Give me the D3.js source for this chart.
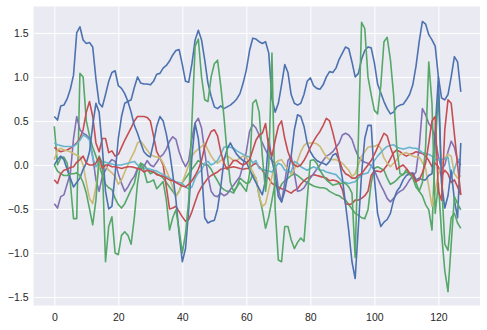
<!DOCTYPE html>
<html><head><meta charset="utf-8">
<script src="https://cdn.jsdelivr.net/npm/d3@7"></script>
<style>
html,body{margin:0;padding:0;background:#fff;}
svg text{font-family:"Liberation Sans",Arial,sans-serif;}
</style></head>
<body><svg id="c" width="487" height="330"></svg>
<script>
const xTicks = [0,20,40,60,80,100,120];
const yTicks = [-1.5,-1.0,-0.5,0.0,0.5,1.0,1.5];
const colors = ["#4C72B0","#55A868","#C44E52","#8172B2","#CCB974","#64B5CD","#4C72B0","#55A868","#C44E52"];

const s1 = [0.55,0.51,0.67,0.68,0.75,0.86,1.02,1.5,1.57,1.42,1.38,1.39,1.34,0.98,0.7,0.66,0.8,0.95,1.05,1.07,0.9,0.87,0.81,0.72,0.74,0.88,1.0,0.93,0.92,0.92,
0.91,0.95,1.03,1.04,1.1,1.13,1.18,1.25,1.3,1.31,1.14,0.95,0.94,1.15,1.42,1.53,1.42,1.19,0.93,0.78,
0.66,0.64,0.67,0.64,0.66,0.68,0.71,0.75,0.81,0.93,1.08,1.3,1.44,1.43,1.40,1.38,1.40,1.27,0.75,0.6,
0.7,0.91,1.14,1.05,0.8,0.7,0.68,0.70,0.8,0.95,0.99,0.9,0.87,0.86,0.91,1.0,1.06,1.05,1.1,1.2,
1.27,1.34,1.32,1.17,1.0,1.04,1.2,1.3,1.34,1.33,1.16,0.92,0.82,0.72,0.64,0.58,0.6,0.66,0.68,0.69,
0.74,0.8,0.91,1.12,1.4,1.63,1.6,1.48,1.42,1.35,1.0,0.76,0.74,0.8,1.0,1.23,1.17,0.83];
const s2 = [0.44,0.0,0.08,0.09,0.02,-0.2,-0.61,-0.61,1.04,1.0,
0.5,0.33,0.2,0.1,0.0,-0.12,-0.22,-0.26,-0.28,-0.38,
-0.45,-0.49,-0.44,-0.36,-0.28,-0.21,-0.05,0.02,0.0,-0.05,
-0.1,-0.08,-0.1,-0.12,-0.15,-0.2,-0.25,-0.3,-0.35,-0.3,
-0.2,-0.15,-0.1,-0.05,0.0,0.05,0.02,0.0,0.0,-0.05,
-0.12,-0.18,-0.25,-0.28,-0.3,-0.3,-0.32,-0.25,-0.15,-0.18,
-0.21,-0.2,-0.11,-0.15,-0.35,-0.51,-0.72,-0.59,-0.4,-0.2,
-0.3,-0.22,-0.18,-0.15,-0.12,-0.1,-0.12,-0.15,-0.18,-0.2,
-0.22,-0.24,-0.25,-0.26,-0.26,-0.27,-0.3,-0.32,-0.34,-0.35,
-0.38,-0.4,-0.45,-0.5,-0.55,-0.57,-0.6,-0.61,-0.51,-0.21,
-0.04,-0.02,-0.04,-0.06,-0.15,-0.22,-0.2,-0.17,-0.13,-0.11,
-0.08,-0.11,-0.13,-0.2,-0.3,-0.35,-0.45,-0.51,-0.74,0.2,
0.81,-0.2,-0.9,-0.97,-0.6,-0.55,-0.66,-0.72];
const s3 = [0.2,0.17,0.15,0.16,0.17,0.19,0.22,0.25,0.3,0.4,
0.6,0.72,0.55,0.25,0.15,0.3,0.3,0.14,0.16,0.1,
0.12,0.2,0.28,0.35,0.42,0.5,0.55,0.55,0.55,0.54,
0.5,0.33,0.15,0.08,0.0,-0.25,-0.5,-0.49,-0.47,-0.53,
-0.59,-0.64,-0.62,-0.53,-0.42,-0.32,-0.25,-0.2,-0.15,-0.12,
-0.1,-0.08,-0.05,-0.04,-0.03,-0.03,-0.02,-0.03,-0.04,-0.05,
-0.04,-0.04,0.0,0.02,-0.02,-0.06,-0.12,-0.15,-0.21,-0.23,
-0.25,-0.27,-0.28,-0.3,-0.32,-0.29,-0.27,-0.22,-0.18,-0.15,
-0.13,-0.11,-0.12,-0.13,-0.14,-0.15,-0.18,-0.17,-0.18,-0.2,
-0.28,-0.44,-0.45,-0.44,-0.4,-0.4,-0.38,-0.35,-0.3,-0.12,
-0.07,-0.07,-0.08,-0.05,0.0,0.07,0.14,0.17,0.15,0.12,
0.1,0.12,0.13,0.15,0.14,0.13,0.1,0.05,-0.02,0.02,
-0.02,-0.13,-0.06,-0.1,-0.2,-0.17,-0.25,-0.34];
const s4 = [-0.44,-0.49,-0.36,-0.34,-0.22,-0.1,0.3,0.55,0.4,0.36,
0.34,0.3,0.1,-0.17,-0.3,-0.13,-0.06,0.02,0.06,0.04,
-0.1,-0.21,-0.3,-0.25,-0.18,-0.13,-0.04,-0.05,-0.02,0.05,
0.0,-0.02,0.03,0.09,0.12,0.18,0.27,0.32,0.29,0.15,
0.05,-0.02,0.05,0.3,0.48,0.53,0.42,0.15,-0.12,-0.3,
-0.35,-0.36,-0.32,-0.35,-0.33,-0.28,-0.23,-0.18,-0.13,0.0,
0.15,0.38,0.46,0.42,0.34,0.25,0.17,0.1,0.05,0.02,
-0.28,-0.42,-0.2,0.05,0.1,-0.1,-0.3,-0.29,-0.26,-0.2,
-0.15,-0.1,-0.05,0.0,0.05,0.1,0.12,0.15,0.2,0.25,
0.34,0.36,0.34,0.29,0.18,0.09,0.05,0.03,0.02,-0.01,
-0.06,-0.15,-0.23,-0.3,-0.38,-0.42,-0.38,-0.33,-0.3,-0.28,
-0.23,-0.17,-0.13,-0.08,0.2,0.64,0.57,0.47,0.42,0.3,
0.1,-0.05,0.0,0.15,0.27,0.2,0.05,0.0];
const s5 = [0.06,0.17,0.19,0.17,0.16,0.15,0.13,0.11,0.09,0.0,
-0.2,-0.38,-0.44,-0.25,-0.02,0.0,-0.01,-0.06,-0.09,-0.13,
-0.22,-0.17,-0.08,0.0,0.08,0.15,0.25,0.27,0.22,0.17,
0.12,0.1,0.09,0.08,0.02,-0.06,-0.15,-0.25,-0.36,-0.3,
-0.2,-0.1,0.0,0.1,0.15,0.18,0.21,0.25,0.17,0.1,
0.05,0.02,0.05,0.08,0.1,0.08,0.05,0.05,0.08,0.1,
0.09,0.0,-0.08,-0.15,-0.35,-0.47,-0.44,-0.28,-0.13,0.02,
0.05,0.06,0.0,-0.05,-0.11,-0.05,0.05,0.15,0.22,0.25,
0.25,0.25,0.24,0.21,0.15,0.09,0.06,0.06,0.06,0.04,
0.02,-0.02,-0.06,-0.13,-0.1,0.0,0.1,0.15,0.2,0.21,
0.21,0.23,0.19,0.08,0.02,-0.02,0.02,0.06,0.12,0.13,
0.14,0.12,0.1,0.09,0.09,0.03,-0.04,-0.25,-0.47,-0.3,
-0.1,0.0,0.08,0.12,0.1,-0.1,-0.15,-0.12];
const s6 = [0.25,0.23,0.22,0.21,0.21,0.21,0.21,0.24,0.28,0.34,
0.32,0.28,0.08,-0.02,0.03,0.04,0.03,0.02,0.01,0.0,
0.0,0.0,0.01,0.02,0.03,0.04,0.0,-0.02,-0.04,-0.04,
-0.05,-0.06,-0.07,-0.09,-0.11,-0.13,-0.15,-0.17,-0.19,-0.2,
-0.21,-0.25,-0.27,-0.25,-0.15,-0.09,-0.06,0.02,0.04,0.0,
0.02,0.05,0.12,0.2,0.21,0.2,0.19,0.16,0.14,0.12,
0.1,0.09,0.02,0.05,-0.04,-0.05,-0.06,-0.07,-0.08,-0.03,
0.02,0.0,-0.06,-0.07,-0.08,0.04,0.02,-0.02,-0.04,-0.06,
-0.04,-0.02,-0.04,-0.06,-0.06,-0.08,-0.09,-0.1,-0.11,-0.15,
-0.19,-0.2,-0.21,-0.2,-0.19,-0.15,-0.11,-0.1,-0.09,-0.02,
0.05,0.1,0.14,0.18,0.21,0.22,0.23,0.2,0.19,0.18,
0.19,0.2,0.19,0.19,0.17,0.14,0.13,0.12,0.1,0.06,
0.06,0.06,0.07,0.09,-0.13,-0.05,0.06,0.06];
const s7 = [0.0,0.06,0.1,0.06,-0.05,-0.15,-0.25,-0.2,-0.15,-0.05,
0.02,0.15,0.45,0.7,0.6,0.2,-0.3,-0.5,-0.47,-0.1,
0.3,0.55,0.7,0.72,0.6,0.45,0.36,0.25,0.15,0.11,
0.09,0.25,0.44,0.55,0.5,0.35,0.15,-0.1,-0.4,-0.78,
-1.1,-0.95,-0.5,0.1,0.47,0.3,-0.05,-0.6,-0.66,-0.64,
-0.63,-0.5,-0.25,0.05,0.18,0.25,0.18,0.12,0.08,0.05,
0.03,-0.05,-0.13,-0.2,-0.27,-0.34,-0.17,0.3,0.05,-0.11,
-0.36,-0.42,-0.3,-0.1,0.1,0.4,0.57,0.55,0.44,0.25,
0.15,0.09,0.05,0.03,0.02,0.0,0.04,0.11,0.13,0.05,
-0.15,-0.45,-0.75,-1.1,-1.29,-0.7,-0.1,0.3,0.45,0.45,
-0.15,-0.55,-0.7,-0.65,-0.62,-0.55,-0.4,-0.3,-0.25,-0.17,
-0.12,-0.1,-0.09,-0.17,-0.15,-0.17,-0.17,-0.12,-0.1,0.4,
1.0,-0.2,-0.49,-0.35,-0.06,-0.4,-0.6,0.25];
const s8 = [0.0,-0.07,-0.1,-0.12,-0.12,-0.1,-0.1,-0.09,-0.12,-0.2,
-0.32,-0.5,-0.68,-0.4,0.1,0.02,-1.1,-0.7,-0.59,-1.0,
-1.02,-0.8,-0.76,-0.8,-0.9,-0.6,-0.21,0.02,-0.06,-0.2,
-0.19,-0.17,-0.27,-0.23,-0.19,-0.4,-0.74,-0.6,-0.51,-0.74,
-1.0,-0.78,-0.4,0.5,1.35,1.43,1.0,0.74,0.72,1.0,
1.15,1.19,0.9,0.55,0.13,-0.2,-0.3,-0.25,-0.2,-0.25,
-0.3,-0.1,0.7,0.74,0.6,0.1,-0.3,0.0,1.27,-0.5,
-1.08,-1.1,-0.7,-0.7,-0.85,-0.95,-0.88,-0.83,-0.87,-0.4,
0.05,0.06,0.02,-0.06,-0.12,-0.17,-0.2,-0.23,-0.22,-0.21,
-0.21,-0.21,-0.25,-0.32,-1.05,0.3,1.62,1.55,1.0,0.8,
0.62,0.58,0.9,1.4,1.45,1.2,0.8,0.2,-0.1,-0.11,
-0.05,-0.1,-0.15,-0.25,-0.3,-0.2,0.2,1.17,0.7,-0.55,
-0.21,-0.78,-1.2,-1.44,-0.9,-0.36,-0.44,-0.51];
const s9 = [-0.17,-0.21,-0.1,-0.06,-0.05,-0.03,-0.02,0.03,0.06,0.1,
0.02,0.0,0.0,0.02,0.09,-0.04,0.0,0.0,-0.02,-0.02,
-0.03,-0.04,-0.03,-0.02,-0.02,-0.03,-0.04,-0.05,-0.08,-0.06,
-0.07,-0.08,-0.11,-0.12,-0.13,-0.15,-0.17,-0.18,-0.2,-0.22,
-0.24,-0.25,-0.22,-0.18,-0.12,-0.05,0.05,0.21,0.3,0.38,
0.4,0.33,0.15,0.02,-0.05,0.0,0.05,0.05,0.02,0.0,
0.02,0.06,0.17,0.28,0.34,0.36,0.47,0.2,0.1,0.28,
0.44,0.5,0.3,0.15,0.05,0.0,-0.02,0.0,0.05,0.12,
0.2,0.27,0.33,0.38,0.45,0.53,0.5,0.37,0.22,0.06,
-0.05,-0.1,-0.12,-0.15,-0.15,-0.12,-0.1,-0.05,0.0,0.05,
0.12,0.2,0.28,0.36,0.33,0.2,0.1,-0.05,-0.02,0.0,
-0.04,-0.09,-0.11,-0.19,-0.17,-0.09,0.02,0.25,0.5,0.55,
-0.3,-0.4,0.4,0.74,0.7,0.35,0.0,-0.34];

const series = [s1,s2,s3,s4,s5,s6,s7,s8,s9];

const svg = d3.select("#c");
const L = 33.5, R = 480, T = 6.5, B = 305.5;
const x = d3.scaleLinear().domain([-6.5, 133]).range([L, R]);
const y = d3.scaleLinear().domain([-1.597, 1.8]).range([B, T]);

svg.append("rect").attr("x", L).attr("y", T).attr("width", R - L).attr("height", B - T).attr("fill", "#EAEAF2");

const gx = svg.append("g").attr("transform", `translate(0,${B})`)
  .call(d3.axisBottom(x).tickValues(xTicks).tickSize(-(B - T)).tickPadding(8).tickFormat(d3.format("d")));
const gy = svg.append("g").attr("transform", `translate(${L},0)`)
  .call(d3.axisLeft(y).tickValues(yTicks).tickSize(-(R - L)).tickPadding(5).tickFormat(d => d3.format(".1f")(d).replace("-", "\u2212")));
[gx, gy].forEach(g => {
  g.select(".domain").remove();
  g.selectAll(".tick line").attr("stroke", "#fff").attr("stroke-width", 1);
  g.selectAll(".tick text").attr("fill", "#262626").attr("font-size", "10.5px");
});

svg.append("clipPath").attr("id", "clp").append("rect")
  .attr("x", L).attr("y", T).attr("width", R - L).attr("height", B - T);

const line = d3.line().x((d, i) => x(i)).y(d => y(d));
const plot = svg.append("g").attr("clip-path", "url(#clp)");
series.forEach((s, k) => {
  plot.append("path").datum(s).attr("d", line).attr("fill", "none")
    .attr("stroke", colors[k]).attr("stroke-width", 1.6).attr("stroke-linejoin", "round");
});
</script></body></html>
